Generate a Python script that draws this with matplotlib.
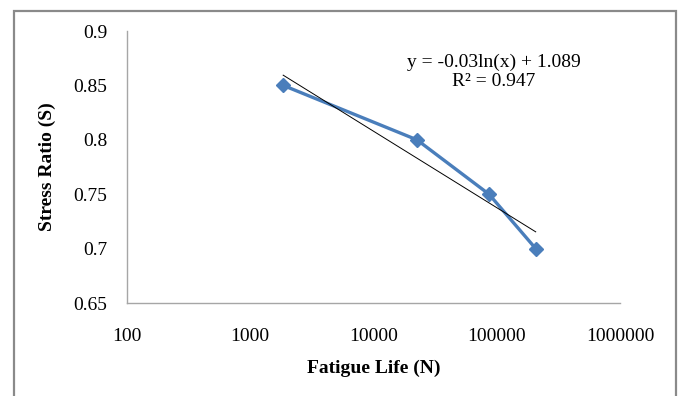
import matplotlib
matplotlib.use("Agg")
import matplotlib.pyplot as plt
import numpy as np
from matplotlib.patches import Rectangle

plt.rcParams['font.family'] = ['Liberation Serif', 'DejaVu Serif']

life = np.array([1850, 22500, 86500, 207000])
stress = np.array([0.85, 0.80, 0.75, 0.70])
x_ticks = [100, 1000, 10000, 100000, 1000000]
y_ticks = [0.65, 0.7, 0.75, 0.8, 0.85, 0.9]
eq_text = "y = -0.03ln(x) + 1.089\nR\u00b2 = 0.947"

W, H = 680, 396
fig = plt.figure(figsize=(W / 100, H / 100), dpi=100)
ax = fig.add_axes([127 / W, 1 - 303 / H, (620 - 127) / W, (303 - 31) / H])

# chart area border (bottom edge falls outside the picture)
fig.patches.append(Rectangle((13.5 / W, -0.05), (676 - 13.5) / W, 1.05 - 10.5 / H,
                             transform=fig.transFigure, fill=False,
                             edgecolor='#8a8a8a', linewidth=1.6, clip_on=False))

ax.plot(life, stress, color='#4a7ebb', linewidth=2.4, marker='D',
        markersize=7.5, zorder=3)

# log trendline fitted on the data
slope, icpt = np.polyfit(np.log(life), stress, 1)
tx = np.array([life.min(), life.max()])
ax.plot(tx, slope * np.log(tx) + icpt, color='black', linewidth=0.7, zorder=4)

ax.set_xscale('log')
ax.set_xlim(100, 1000000)
ax.set_ylim(0.65, 0.9)
ax.set_xticks(x_ticks)
ax.set_xticklabels([str(v) for v in x_ticks])
ax.set_yticks(y_ticks)
ax.set_yticklabels(['0.65', '0.7', '0.75', '0.8', '0.85', '0.9'])
ax.minorticks_off()
ax.tick_params(length=0, labelsize=14, pad=14)
ax.tick_params(axis='x', pad=18)

for s in ['top', 'right']:
    ax.spines[s].set_visible(False)
for s in ['left', 'bottom']:
    ax.spines[s].set_color('#a6a6a6')
    ax.spines[s].set_linewidth(1.0)

ax.text(494 / W, 1 - 72 / H, eq_text, transform=fig.transFigure, ha='center',
        va='center', fontsize=14, linespacing=1.15)

fig.text(374 / W, 1 - 368 / H, "Fatigue Life (N)", ha='center', va='center',
         fontsize=14, fontweight='bold')
fig.text(47 / W, 1 - 167 / H, "Stress Ratio (S)", ha='center', va='center',
         fontsize=14, fontweight='bold', rotation=90)

fig.savefig("out.png", dpi=100)
